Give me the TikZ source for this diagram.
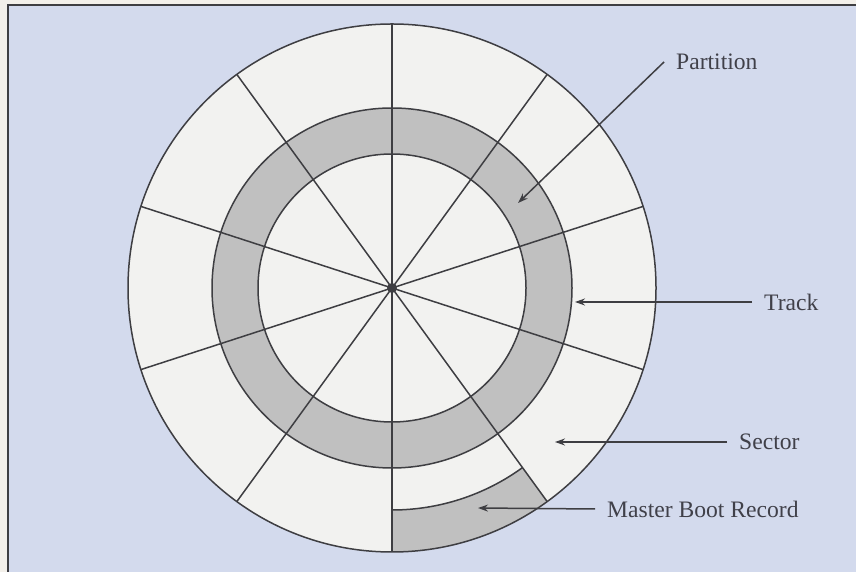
\documentclass[tikz,border=0pt]{standalone}
\usepackage{fontspec}
\setmainfont{Liberation Serif}
\usetikzlibrary{arrows.meta}
\definecolor{bgblue}{HTML}{D3DAED}
\definecolor{cream}{HTML}{F3F0EA}
\definecolor{disk}{HTML}{F2F2F0}
\definecolor{ring}{HTML}{C0C0C0}
\definecolor{ink}{HTML}{3E3E42}
\definecolor{txt}{HTML}{404049}
\tikzset{
  diskline/.style={draw=ink, line width=1.5pt},
  lbl/.style={anchor=west, inner xsep=12pt, inner ysep=0pt, text=txt,
              font=\fontsize{23.6}{28}\selectfont},
  pointer/.style={draw=ink, line width=1.5pt, -{Stealth[length=10pt,width=7pt]}}
}
\begin{document}
\begin{tikzpicture}[x=1pt,y=1pt]
\useasboundingbox (0,0) rectangle (856,572);
% background and frame
\fill[cream] (0,0) rectangle (856,572);
\fill[bgblue] (8,0) rectangle (856,567);
\draw[ink, line width=1.4pt] (8,0) -- (8,567) -- (856,567);
% disk
\coordinate (c) at (392,284);
\fill[disk] (c) circle (264);
\fill[ring, even odd rule] (c) circle (180) (c) circle (134);
% master boot record
\fill[ring] ([shift={(-90:222)}]c) arc (-90:-54:222) -- ([shift={(-54:264)}]c) arc (-54:-90:264) -- cycle;
\draw[diskline] ([shift={(-90:222)}]c) arc (-90:-54:222);
% circles
\draw[diskline] (c) circle (264);
\draw[diskline] (c) circle (180);
\draw[diskline] (c) circle (134);
% sector lines
\foreach \a in {90,54,18,-18,-54} {
  \draw[diskline] ([shift={(\a:264)}]c) -- ([shift={(\a+180:264)}]c);
}
\fill[ink] (c) circle (5);
% labels
\node[lbl] (partition) at (664,510) {Partition};
\node[lbl] (track) at (752,270) {Track};
\node[lbl] (sector) at (727,130) {Sector};
\node[lbl] (mbr) at (595,63) {Master Boot Record};
\coordinate (ptip) at (518,369);
\coordinate (ttip) at (575,270);
\coordinate (stip) at (555,130);
\coordinate (mtip) at (478,64);
\draw[pointer] (partition.west) -- (ptip);
\draw[pointer] (track.west) -- (ttip);
\draw[pointer] (sector.west) -- (stip);
\draw[pointer] (mbr.west) -- (mtip);
\end{tikzpicture}
\end{document}
